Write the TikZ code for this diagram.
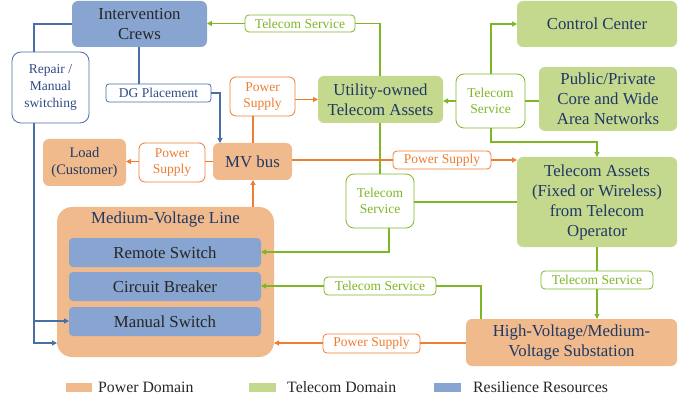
\documentclass[tikz,border=0pt]{standalone}
\usepackage{fontspec}
\setmainfont{Liberation Serif}
\usetikzlibrary{arrows.meta}
\definecolor{ofill}{HTML}{F1BA8C}
\definecolor{gfill}{HTML}{C4D88E}
\definecolor{bfill}{HTML}{87A5D0}
\definecolor{oline}{HTML}{ED7D31}
\definecolor{gline}{HTML}{7FB626}
\definecolor{bline}{HTML}{4A6FA5}
\definecolor{navy}{HTML}{1F3864}
\definecolor{blab}{HTML}{2F4B86}
\tikzset{
  big/.style={rounded corners=6pt, inner sep=0pt, outer sep=0pt, align=center, text=navy, font=\fontsize{16.8}{20}\selectfont},
  obox/.style={big, fill=ofill},
  gbox/.style={big, fill=gfill},
  bbox/.style={big, fill=bfill, text=black!85},
  lab/.style={rounded corners=4pt, inner sep=0pt, outer sep=0pt, align=center, fill=white, line width=0.8pt, font=\fontsize{13.5}{16.7}\selectfont},
  olab/.style={lab, draw=oline, text=oline},
  glab/.style={lab, draw=gline, text=gline},
  blab/.style={lab, draw=bline, text=blab},
  oarr/.style={draw=oline, line width=1.1pt, -{Triangle[length=5pt,width=5pt]}},
  garr/.style={draw=gline, line width=1.1pt, -{Triangle[length=5pt,width=5pt]}},
  barr/.style={draw=bline, line width=1.1pt, -{Triangle[length=5pt,width=5pt]}},
  oln/.style={draw=oline, line width=1.1pt},
  gln/.style={draw=gline, line width=1.1pt},
  bln/.style={draw=bline, line width=1.1pt},
  sz/.style 2 args={minimum width=#1pt, minimum height=#2pt},
  legtxt/.style={anchor=west, inner sep=0pt, font=\fontsize{15.8}{18}\selectfont, text=black!85}
}
\begin{document}
\begin{tikzpicture}[x=1pt,y=-1pt]
\useasboundingbox (0,0) rectangle (694,401);
% main boxes
\node[bbox, sz={135}{46}] (ic) at (139.5,24) {Intervention\\Crews};
\node[gbox, sz={125}{47}] (ut) at (380.5,99.5) {Utility-owned\\Telecom Assets};
\node[gbox, sz={160}{46}] (cc) at (597,24) {Control Center};
\node[gbox, sz={138}{64}] (pp) at (608,99) {Public/Private\\Core and Wide\\Area Networks};
\node[gbox, sz={160}{90}] (ta) at (597,202) {Telecom Assets\\(Fixed or Wireless)\\from Telecom\\Operator};
\node[obox, sz={79}{37}] (mvb) at (252.5,161.5) {MV bus};
\node[obox, sz={83}{47}, font=\fontsize{14.5}{17.5}\selectfont] (load) at (84.5,162.5) {Load\\(Customer)};
\node[obox, sz={217}{150}, rounded corners=15pt] (mvl) at (165.5,282) {};
\node[text=navy, font=\fontsize{16.8}{20}\selectfont, inner sep=0pt] (mvlt) at (165.5,219) {Medium-Voltage Line};
\node[bbox, sz={192}{29}, rounded corners=4pt] (rs) at (165,252.5) {Remote Switch};
\node[bbox, sz={192}{29}, rounded corners=4pt] (cb) at (165,286.5) {Circuit Breaker};
\node[bbox, sz={192}{29}, rounded corners=4pt] (ms) at (165,321.5) {Manual Switch};
\node[obox, sz={211}{47}] (hv) at (571.5,342.5) {High-Voltage/Medium-\\Voltage Substation};
% labels
\node[glab, sz={110}{17}] (ts1) at (300,23.5) {Telecom Service};
\node[glab, sz={69}{54}, rounded corners=8pt] (ts2) at (490.5,101) {Telecom\\Service};
\node[glab, sz={68}{54}, rounded corners=8pt] (ts3) at (380,201) {Telecom\\Service};
\node[glab, sz={112}{18}] (ts4) at (380,286) {Telecom Service};
\node[glab, sz={112}{18}] (ts5) at (597,280) {Telecom Service};
\node[olab, sz={65}{39}, rounded corners=6pt] (ps1) at (262.5,96.5) {Power\\Supply};
\node[olab, sz={98}{18}] (ps2) at (442,160) {Power Supply};
\node[olab, sz={66}{39}, rounded corners=6pt] (ps0) at (172,162.5) {Power\\Supply};
\node[olab, sz={97}{19}] (ps3) at (371.5,343.5) {Power Supply};
\node[blab, sz={105}{18}, rounded corners=3pt] (dg) at (158.5,93) {DG Placement};
\node[blab, sz={77}{71}, rounded corners=9pt] (rep) at (50.5,87.5) {Repair /\\Manual\\switching};
% coordinates
\coordinate (x253) at (253,0);
\coordinate (x380) at (380,0);
\coordinate (x491) at (491,0);
\coordinate (x389) at (389,0);
\coordinate (x220) at (220,0);
\coordinate (x34) at (34,0);
\coordinate (x481) at (481,0);
\coordinate (x139) at (139,0);
\coordinate (y142) at (0,142);
\coordinate (y252) at (0,252);
\coordinate (y321) at (0,321);
\coordinate (y343) at (0,343);
% green connectors
\draw[garr] (ts1.west) -- (ic.east |- ts1.west);
\draw[gln] (ts1.east) -| (ut.north -| x380);
\draw[garr] (ts2.west) -- (ut.east |- ts2.west);
\draw[gln] (ts2.east) -- (pp.west |- ts2.east);
\draw[garr] (ts2.north -| x491) |- (cc.west);
\draw[garr] (ts2.south -| x491) -- (x491 |- y142) -| (ta.north);
\draw[gln] (ts3.north -| x380) -- (ut.south -| x380);
\draw[gln] (ts3.east) ++(0,1) -- (ta.west |- 0,202);
\draw[garr] (ts3.south -| x389) -- (x389 |- y252) -- (rs.east |- y252);
\draw[garr] (ts4.west) -- (cb.east |- ts4.west);
\draw[gln] (ts4.east) -| (hv.north -| x481);
\draw[gln] (ta.south) -- (ts5.north);
\draw[garr] (ts5.south) -- (hv.north -| ts5.south);
% orange connectors
\draw[oln] (ps1.south -| x253) -- (mvb.north -| x253);
\draw[oarr] (ps1.east |- ut.west) -- (ut.west);
\draw[oln] (mvb.east |- ps2.west) -- (ps2.west);
\draw[oarr] (ps2.east) -- (ta.west |- ps2.east);
\draw[oln] (mvb.west) -- (ps0.east |- mvb.west);
\draw[oarr] (ps0.west |- mvb.west) -- (load.east |- mvb.west);
\draw[oarr] (mvl.north -| x253) -- (mvb.south -| x253);
\draw[oln] (hv.west |- y343) -- (ps3.east |- y343);
\draw[oarr] (ps3.west |- y343) -- (mvl.east |- y343);
% blue connectors
\draw[bln] (ic.south -| x139) -- (dg.north -| x139);
\draw[barr] (dg.east) -| (mvb.north -| x220);
\draw[bln] (ic.west) -| (rep.north -| x34);
\draw[barr] (rep.south -| x34) |- (mvl.west |- y343);
\draw[barr] (x34 |- y321) -- (ms.west |- y321);
% legend
\fill[ofill] (66,383) rectangle (92,392);
\node[legtxt] at (98,387.5) {Power Domain};
\fill[gfill] (249,383) rectangle (276,392);
\node[legtxt] at (287,387.5) {Telecom Domain};
\fill[bfill] (434,383) rectangle (461,392);
\node[legtxt] at (473,387.5) {Resilience Resources};
\end{tikzpicture}
\end{document}
